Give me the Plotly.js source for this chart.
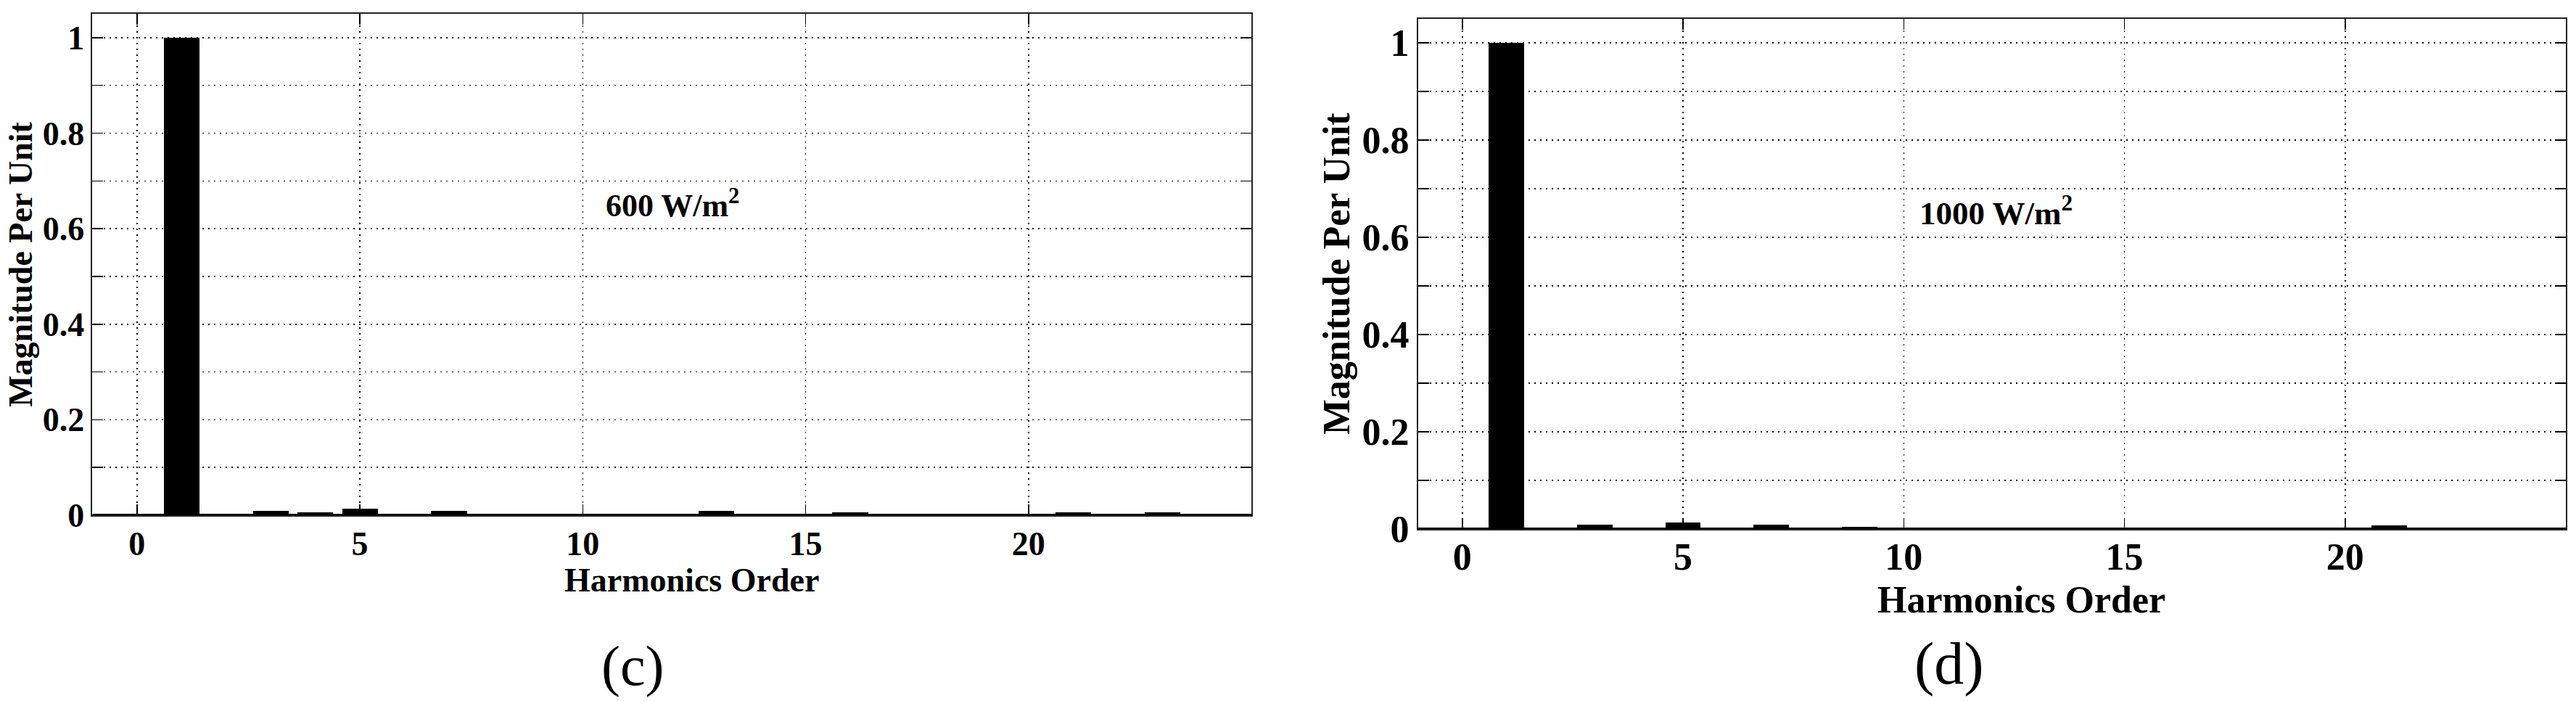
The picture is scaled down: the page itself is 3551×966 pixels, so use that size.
<!DOCTYPE html>
<html>
<head>
<meta charset="utf-8">
<script src="https://cdn.plot.ly/plotly-3.0.1.min.js"></script>
<style>
html,body{margin:0;padding:0;background:#fff;}
#chart{width:3551px;height:966px;}
</style>
</head>
<body>
<div id="chart"></div>
<script>
// Harmonic orders (x categories)
const harmonicOrders = [0,1,2,3,4,5,6,7,8,9,10,11,12,13,14,15,16,17,18,19,20,21,22,23,24,25];
// (c) 600 W/m2 spectrum, per-unit magnitudes
const magnitude600 = [0.003,1.0,0.003,0.009,0.006,0.014,0.003,0.009,0.003,0.003,0.003,0.003,0.003,0.009,0.003,0.003,0.006,0.003,0.003,0.003,0.003,0.006,0.003,0.006,0.003,0.003];
// (d) 1000 W/m2 spectrum, per-unit magnitudes
const magnitude1000 = [0,1.0,0,0.009,0,0.014,0,0.009,0,0.004,0,0,0.003,0.003,0.003,0,0.003,0.003,0.003,0.003,0,0.007,0,0,0,0];
// Tick labels
const xTickVals = [0,5,10,15,20];
const xTickText = ['0','5','10','15','20'];
const yTickVals = [0,0.2,0.4,0.6,0.8,1];
const yTickText = ['0','0.2','0.4','0.6','0.8','1'];
// Texts
const xTitle = 'Harmonics Order';
const yTitle = 'Magnitude Per Unit';
const labelC = '600 W/m<sup>2</sup>';
const labelD = '1000 W/m<sup>2</sup>';
const panelC = '(c)';
const panelD = '(d)';

const SERIF = 'Liberation Serif, Times New Roman, serif';
const DOT = '2px,6px';

function bar(y, xa, ya) {
  return {
    type: 'bar', x: harmonicOrders, y: y, width: 0.8,
    marker: {color: '#000', line: {width: 0}},
    xaxis: xa, yaxis: ya, hoverinfo: 'x+y', showlegend: false
  };
}

function xAxis(domain, anchor, fs, lblStandoff) {
  return {
    domain: domain, anchor: anchor, range: [-1, 25],
    tickmode: 'array', tickvals: xTickVals, ticktext: xTickText,
    ticks: 'inside', ticklen: 15, tickwidth: 1.5, tickcolor: '#000',
    showline: true, linecolor: '#222', linewidth: 2, mirror: 'ticks',
    showgrid: true, gridcolor: '#000', gridwidth: 1.5, griddash: DOT,
    zeroline: false,
    ticklabelstandoff: lblStandoff,
    tickfont: {family: SERIF, size: fs, color: '#000', weight: 'bold'},
    automargin: false, fixedrange: true
  };
}

function yAxis(domain, anchor, fs, standoff) {
  return {
    domain: domain, anchor: anchor, range: [0, 1.05],
    tickmode: 'array', tickvals: yTickVals, ticktext: yTickText,
    ticks: 'inside', ticklen: 15, tickwidth: 1.5, tickcolor: '#000',
    showline: true, linecolor: '#222', linewidth: 2, mirror: 'ticks',
    showgrid: true, gridcolor: '#000', gridwidth: 1.5, griddash: DOT,
    minor: {tickmode: 'linear', tick0: 0, dtick: 0.1, ticks: 'inside', ticklen: 15, tickwidth: 1.5, tickcolor: '#000',
            showgrid: true, gridcolor: '#000', gridwidth: 1.5, griddash: DOT},
    zeroline: false,
    ticklabelstandoff: 0,
    tickfont: {family: SERIF, size: fs, color: '#000', weight: 'bold'},
    title: {text: yTitle, font: {family: SERIF, size: fs, color: '#000', weight: 'bold'}, standoff: standoff},
    automargin: false, fixedrange: true
  };
}

const data = [bar(magnitude600, 'x', 'y'), bar(magnitude1000, 'x2', 'y2')];

const layout = {
  width: 3551, height: 966, autosize: false,
  margin: {l: 0, r: 0, t: 0, b: 0, pad: 0},
  paper_bgcolor: '#fff', plot_bgcolor: '#fff',
  showlegend: false, bargap: 0,
  xaxis: xAxis([0.03588, 0.48578], 'y', 46, -2),
  yaxis: yAxis([0.2650, 0.9803], 'x', 46, 0),
  xaxis2: xAxis([0.55055, 0.99606], 'y2', 52, -8),
  yaxis2: yAxis([0.24534, 0.97360], 'x2', 52, 0),
  shapes: [
    {type: 'line', xref: 'x domain', yref: 'y', x0: 0, x1: 1, y0: 0, y1: 0, line: {color: '#000', width: 4}, layer: 'above'},
    {type: 'line', xref: 'x2 domain', yref: 'y2', x0: 0, x1: 1, y0: 0, y1: 0, line: {color: '#000', width: 4}, layer: 'above'}
  ],
  annotations: [
    {xref: 'paper', yref: 'paper', x: 0.2684, y: 0.172, xanchor: 'center', yanchor: 'middle', showarrow: false,
     text: xTitle, font: {family: SERIF, size: 46, color: '#000', weight: 'bold'}},
    {xref: 'paper', yref: 'paper', x: 0.7846, y: 0.1440, xanchor: 'center', yanchor: 'middle', showarrow: false,
     text: xTitle, font: {family: SERIF, size: 52, color: '#000', weight: 'bold'}},
    {xref: 'x', yref: 'y', x: 10.48, y: 0.653, xanchor: 'left', yanchor: 'middle', showarrow: false,
     text: labelC, font: {family: SERIF, size: 44, color: '#000', weight: 'bold'}},
    {xref: 'x2', yref: 'y2', x: 10.32, y: 0.654, xanchor: 'left', yanchor: 'middle', showarrow: false,
     text: labelD, font: {family: SERIF, size: 45, color: '#000', weight: 'bold'}},
    {xref: 'paper', yref: 'paper', x: 0.2458, y: 0.0507, xanchor: 'center', yanchor: 'middle', showarrow: false,
     text: panelC, font: {family: SERIF, size: 78, color: '#000'}},
    {xref: 'paper', yref: 'paper', x: 0.7567, y: 0.0528, xanchor: 'center', yanchor: 'middle', showarrow: false,
     text: panelD, font: {family: SERIF, size: 82, color: '#000'}}
  ]
};

Plotly.newPlot('chart', data, layout, {displayModeBar: false, staticPlot: true});
</script>
</body>
</html>
